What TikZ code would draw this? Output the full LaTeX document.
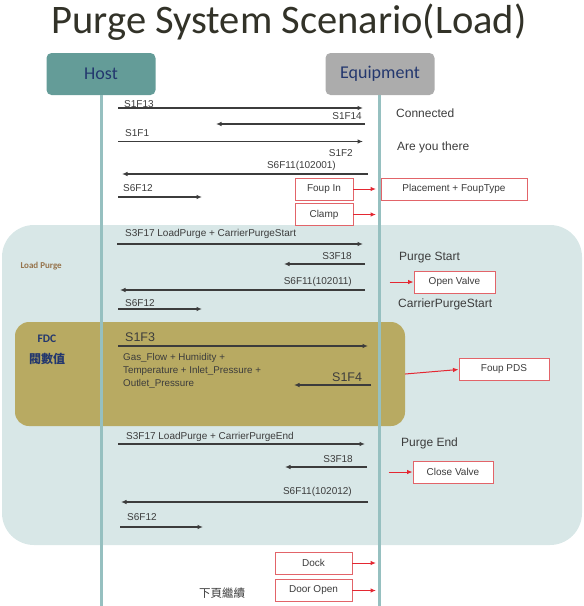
\documentclass[tikz,border=0pt]{standalone}
\usepackage{fontspec}
\setmainfont{Liberation Sans}
\newfontfamily\calib{Carlito}
\newfontfamily\cjk{Noto Sans CJK TC}
\usetikzlibrary{arrows.meta, positioning, calc}
\definecolor{lifeC}{RGB}{150,192,192}
\definecolor{hostC}{RGB}{100,156,152}
\definecolor{equipC}{RGB}{172,172,172}
\definecolor{navyT}{RGB}{35,55,110}
\definecolor{purgeC}{RGB}{216,231,231}
\definecolor{fdcC}{RGB}{184,170,98}
\definecolor{msgC}{RGB}{60,60,60}
\definecolor{alertC}{RGB}{228,40,50}
\definecolor{boxline}{RGB}{226,100,105}
\definecolor{brownT}{RGB}{150,115,75}

\begin{document}
\begin{tikzpicture}[
    x=1pt, y=-1pt,
    actor/.style={rounded corners=5pt,fill=#1,minimum width=109pt,
      minimum height=42pt,font=\calib\fontsize{18}{18}\selectfont,text=navyT},
    life/.style={lifeC,line width=3pt},
    msg/.style={-{Latex[length=5.5pt,width=4.5pt]},line width=1.1pt,msgC},
    hit/.style={-{Latex[length=5.5pt,width=4.5pt]},line width=1pt,alertC},
    lbl/.style={font=\fontsize{10}{10}\selectfont,text=msgC,inner sep=0pt},
    note/.style={font=\fontsize{12}{12}\selectfont,text=msgC,inner sep=0pt,anchor=west},
    evt/.style={draw=boxline,line width=0.9pt,fill=white,minimum height=22pt,
      font=\fontsize{10}{10}\selectfont,text=msgC,inner sep=0pt}
  ]
  \useasboundingbox (0,0) rectangle (584,606);

  \node[font=\calib\fontsize{40.5}{40.5}\selectfont,text={rgb,255:red,50;green,50;blue,40},
    anchor=base] (title) at (289,33) {Purge System Scenario(Load)};

  % background blocks
  \node[fill=purgeC,rounded corners=32pt,minimum width=580pt,minimum height=320pt,
    inner sep=0pt] (purge) at (292,385) {};
  \node[font=\calib\bfseries\fontsize{9}{9}\selectfont,text=brownT,anchor=west]
    (purgelbl) at (17,266) {Load Purge};
  \node[fill=fdcC,rounded corners=14pt,minimum width=390pt,minimum height=104pt,
    inner sep=0pt] (fdc) at (210,374) {};
  \node[font=\calib\bfseries\fontsize{11.5}{12}\selectfont,text=navyT] (fdclbl) at (47,339) {FDC};
  \node[font=\cjk\bfseries\fontsize{12}{12}\selectfont,text=navyT] (fdcval) at (47,359) {閥數值};

  % actors and lifelines
  \node[actor=hostC] (host) at (101,74) {Host};
  \node[actor=equipC] (equip) at (380,74) {Equipment};
  \coordinate (hostend) at (101,606);
  \coordinate (equipend) at (379,606);
  \draw[life] (host.south) -- (hostend);
  \draw[life] ([xshift=-1pt]equip.south) -- (equipend);

  % messages
  \foreach \n/\y/\a/\b in {m1/108/118/363, m2/124/365/216, m3/141.5/118/363,
      m4/174/368/122, m5/197/118/202, m6/244/117/363, m7/264/365/284,
      m8/290/365/120, m9/309/118/202, m10/346/118/368, m11/385/371/294,
      m12/444/118/365, m13/467/367/285, m14/502/368/121, m15/527/120/203} {
    \coordinate (\n-s) at (\a,\y);
    \coordinate (\n-e) at (\b,\y);
    \draw[msg] (\n-s) -- (\n-e); }

  \node[lbl,anchor=west] (l1) at (124,104) {S1F13};
  \node[lbl,anchor=east] (l2) at (362,116) {S1F14};
  \node[lbl,anchor=west] (l3) at (125,133) {S1F1};
  \node[lbl,anchor=east] (l3b) at (353,153) {S1F2};
  \node[lbl,anchor=east] (l4) at (336,166) {S6F11(102001)};
  \node[lbl,anchor=west] (l5) at (123,188) {S6F12};
  \node[lbl,anchor=west] (l6) at (125,234) {S3F17 LoadPurge + CarrierPurgeStart};
  \node[lbl,anchor=east] (l7) at (352,256) {S3F18};
  \node[lbl,anchor=east] (l8) at (352,282) {S6F11(102011)};
  \node[lbl,anchor=west] (l9) at (125,303) {S6F12};
  \node[lbl,anchor=west,font=\fontsize{12.5}{13}\selectfont] (l10) at (125,337) {S1F3};
  \node[lbl,anchor=north west,align=left,font=\fontsize{9.8}{13}\selectfont]
    (gas) at (123,353) {Gas\_Flow + Humidity +\\Temperature + Inlet\_Pressure +\\Outlet\_Pressure};
  \node[lbl,anchor=west,font=\fontsize{12.5}{13}\selectfont] (l11) at (332,377) {S1F4};
  \node[lbl,anchor=west] (l12) at (126,437) {S3F17 LoadPurge + CarrierPurgeEnd};
  \node[lbl,anchor=east] (l13) at (353,459) {S3F18};
  \node[lbl,anchor=east] (l14) at (352,492) {S6F11(102012)};
  \node[lbl,anchor=west] (l15) at (127,517) {S6F12};

  % equipment side notes
  \node[note] (n1) at (396,113) {Connected};
  \node[note] (n2) at (397,147) {Are you there};
  \node[note] (n3) at (399,258) {Purge Start};
  \node[note] (n4) at (398,304) {CarrierPurgeStart};
  \node[note] (n5) at (401,443) {Purge End};
  \node[font=\cjk\fontsize{11.5}{12}\selectfont,text=msgC] (cont) at (222,593) {下頁繼續};

  % events
  \coordinate (eqx) at (376,0);
  \node[evt,minimum width=58pt] (foupin) at (324,189) {Foup In};
  \node[evt,minimum width=146pt] (place) at (454,189) {Placement + FoupType};
  \node[evt,minimum width=58pt] (clamp) at (324,214.5) {Clamp};
  \node[evt,minimum width=81pt] (openv) at (454.5,282) {Open Valve};
  \node[evt,minimum width=90pt] (pds) at (504,369.5) {Foup PDS};
  \node[evt,minimum width=80pt] (closev) at (453,472) {Close Valve};
  \node[evt,minimum width=77pt] (dock) at (313.5,563) {Dock};
  \node[evt,minimum width=77pt] (door) at (313.5,590.5) {Door Open};
  \foreach \b in {foupin, clamp, dock, door} {
    \draw[hit] (\b.east) -- (\b.east -| eqx); }
  \draw[hit] ([xshift=-24pt]openv.west) -- (openv.west);
  \draw[hit] ([xshift=-24pt]closev.west) -- (closev.west);
  \draw[hit] (fdc.east) -- (pds.west);
\end{tikzpicture}
\end{document}
